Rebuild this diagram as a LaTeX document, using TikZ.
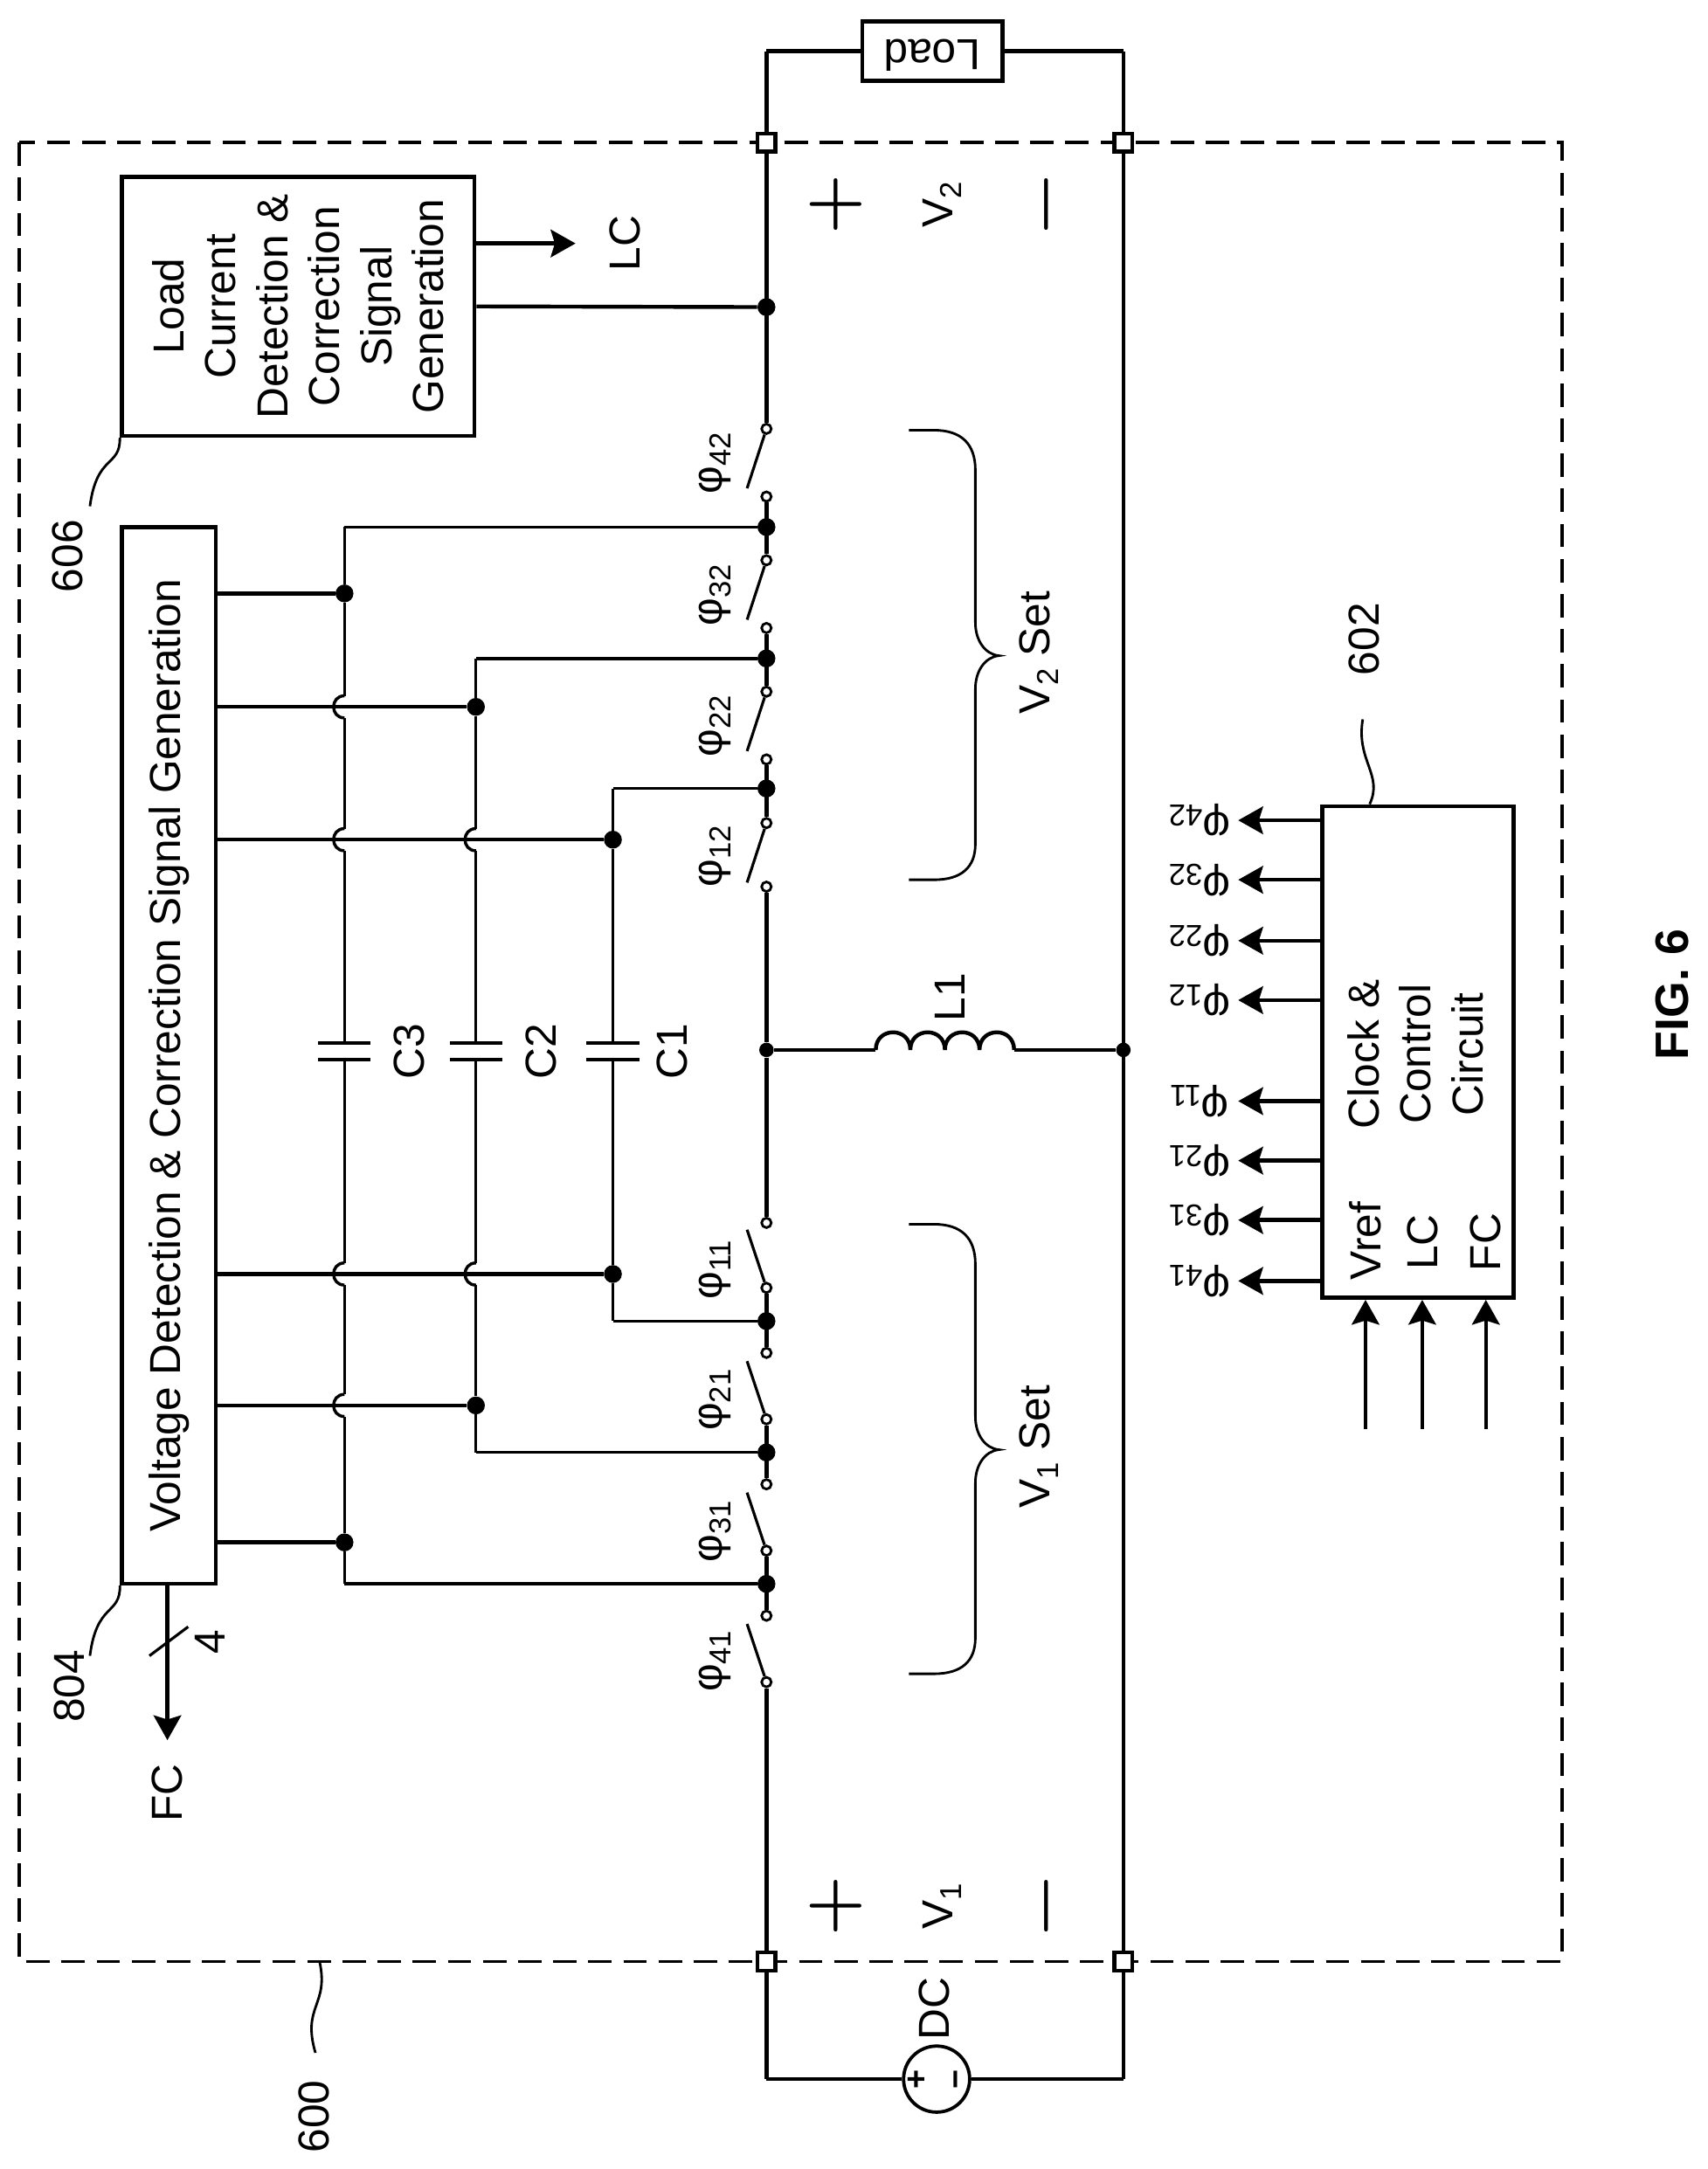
\documentclass[tikz,border=0pt]{standalone}
\usepackage{fontspec}
\setmainfont{Liberation Sans}
\newfontfamily\signfont{Latin Modern Roman}
\usetikzlibrary{arrows.meta}
\newcommand{\lowsub}[1]{\raisebox{-6pt}{\fontsize{22}{22}\selectfont #1}}
\newcommand{\phisw}[1]{{\fontsize{31}{31}\selectfont φ}\lowsub{#1}}
\tikzset{
  x=1.0045pt,y=-1.0045pt,
  every node/.style={font=\fontsize{31.5}{37.8}\selectfont,inner sep=0pt},
  wire/.style={line width=2.8pt},
  thinwire/.style={line width=2.2pt},
  leader/.style={line width=1.8pt},
  sig/.style={line width=2.8pt,-{Stealth[length=18pt,width=20pt,inset=3pt]}},
  vtext/.style={rotate=90,align=center},
  flip/.style={rotate=180},
  sign/.style={rotate=90,font=\signfont\bfseries\fontsize{50}{50}\selectfont},
  block/.style={draw,line width=2.9pt,fill=white},
  dot/.style={circle,fill=black,minimum size=13pt},
  smalldot/.style={circle,fill=black,minimum size=10.5pt},
  contact/.style={circle,draw,line width=1.8pt,fill=white,minimum size=7pt},
  port/.style={rectangle,draw,line width=2.8pt,fill=white,minimum size=13pt},
  plate/.style={line width=3pt}
}
\begin{document}
\begin{tikzpicture}
\useasboundingbox (0,0) rectangle (1234.4,1568);
\draw[line width=2.2pt,dash pattern=on 17pt off 8.5pt] (14,103) rectangle (1129,1418);
\node[port] (p_tl) at (554,103) {};
\node[port] (p_tr) at (812,103) {};
\node[port] (p_bl) at (554,1418) {};
\node[port] (p_br) at (812,1418) {};
\node[block,minimum height=43pt,minimum width=102pt] (load) at (674,37) {};
\node[flip] (load_t) at (674,40) {Load};
\coordinate (load_a) at (554,37);
\coordinate (load_b) at (812,37);
\path[wire] (p_tl) edge (load_a)
            (load_a) edge (load.west)
            (load.east) edge (load_b)
            (load_b) edge (p_tr);
\node[circle,draw,line width=2.4pt,minimum size=48pt] (dc) at (677,1503) {};
\node[vtext] (dc_t) at (675,1452) {DC};
\node[rotate=90,font=\fontsize{24}{24}\selectfont\bfseries] (dc_p) at (663,1503) {+};
\node[rotate=90,font=\fontsize{24}{24}\selectfont\bfseries] (dc_m) at (694,1503) {−};
\coordinate (dc_a) at (554,1503);
\coordinate (dc_b) at (812,1503);
\path[wire] (p_bl) edge (dc_a)
            (dc_a) edge (dc.west)
            (dc.east) edge (dc_b)
            (dc_b) edge (p_br);
\path[wire] (p_tr) edge (p_br);
\node[smalldot] (n_low) at (812,759) {};
\node[smalldot] (n_mid) at (554,759) {};
\foreach \k/\ya/\yb/\yl in {42/310/359/335,32/405/454/430,22/500/549/525,12/595/641/619}
{
  \node[contact] (c_\k_a) at (554,\ya) {};
  \node[contact] (c_\k_b) at (554,\yb) {};
  \coordinate (bl_\k) at (540,\ya+43);
  \path[line width=2pt] (c_\k_a) edge (bl_\k);
  \node[vtext] (ph_\k) at (517,\yl) {\phisw{\k}};
}
\foreach \k/\ya/\yb/\yl in {11/884/931/918,21/978/1026/1012,31/1073/1121/1107,41/1168/1216/1201}
{
  \node[contact] (c_\k_a) at (554,\ya) {};
  \node[contact] (c_\k_b) at (554,\yb) {};
  \coordinate (bl_\k) at (540,\yb-42);
  \path[line width=2pt] (c_\k_b) edge (bl_\k);
  \node[vtext] (ph_\k) at (517,\yl) {\phisw{\k}};
}
\node[dot] (j_lc) at (554,222) {};
\node[dot] (j_32) at (554,381) {};
\node[dot] (j_22) at (554,476) {};
\node[dot] (j_12) at (554,570) {};
\node[dot] (j_11) at (554,955) {};
\node[dot] (j_21) at (554,1050) {};
\node[dot] (j_31) at (554,1145) {};
\path[wire] (p_tl) edge (c_42_a)
            (c_42_b) edge (c_32_a)
            (c_32_b) edge (c_22_a)
            (c_22_b) edge (c_12_a)
            (c_12_b) edge (n_mid)
            (n_mid) edge (c_11_a)
            (c_11_b) edge (c_21_a)
            (c_21_b) edge (c_31_a)
            (c_31_b) edge (c_41_a)
            (c_41_b) edge (p_bl);
\node[block,vtext,minimum width=188pt,minimum height=256pt] (lc_box) at (215.5,221.5)
  {Load\\Current\\Detection \&\\Correction\\Signal\\Generation};
\coordinate (lc_o) at (343,176);
\coordinate (lc_e) at (416,176);
\node[vtext] (lc_t) at (452,176) {LC};
\path[sig] (lc_o) edge (lc_e);
\path[wire] (lc_box.south) edge (j_lc);
\node[block,vtext,minimum width=767pt,minimum height=68pt] (vd_box) at (122,763)
  {Voltage Detection \& Correction Signal Generation};
\node[dot] (t_3a) at (249,429) {};
\node[dot] (t_3b) at (249,1115) {};
\node[dot] (t_2a) at (344,511) {};
\node[dot] (t_2b) at (344,1016) {};
\node[dot] (t_1a) at (443,607) {};
\node[dot] (t_1b) at (443,921) {};
\foreach \n/\x/\y in {h_3a/249/511,h_3b/249/607,h_3c/249/921,h_3d/249/1016,h_2a/344/607,h_2b/344/921}
{
  \coordinate (\n_u) at (\x,\y-8);
  \coordinate (\n_d) at (\x,\y+8);
  \draw[thinwire] (\n_u) .. controls +(-10.5,0) and +(-10.5,0) .. (\n_d);
}
\foreach \n/\x in {3/249,2/344,1/443}
{
  \coordinate (cap_\n_u) at (\x,754);
  \coordinate (cap_\n_d) at (\x,766);
  \draw[plate] (\x-19,754) -- (\x+19,754) (\x-19,766) -- (\x+19,766);
}
\coordinate (k_3a) at (249,381);
\coordinate (k_3b) at (249,1145);
\coordinate (k_2a) at (344,476);
\coordinate (k_2b) at (344,1050);
\coordinate (k_1a) at (443,570);
\coordinate (k_1b) at (443,955);
\path[thinwire] (j_32) edge (k_3a)
                (k_3a) edge (t_3a)
                (t_3a) edge (h_3a_u)
                (h_3a_d) edge (h_3b_u)
                (h_3b_d) edge (cap_3_u)
                (cap_3_d) edge (h_3c_u)
                (h_3c_d) edge (h_3d_u)
                (h_3d_d) edge (t_3b)
                (t_3b) edge (k_3b)
                (k_3b) edge (j_31)
                (j_22) edge (k_2a)
                (k_2a) edge (t_2a)
                (t_2a) edge (h_2a_u)
                (h_2a_d) edge (cap_2_u)
                (cap_2_d) edge (h_2b_u)
                (h_2b_d) edge (t_2b)
                (t_2b) edge (k_2b)
                (k_2b) edge (j_21)
                (j_12) edge (k_1a)
                (k_1a) edge (t_1a)
                (t_1a) edge (cap_1_u)
                (cap_1_d) edge (t_1b)
                (t_1b) edge (k_1b)
                (k_1b) edge (j_11);
\path[wire] (vd_box.south |- t_3a) edge (t_3a)
            (vd_box.south |- t_2a) edge (t_2a)
            (vd_box.south |- t_1a) edge (t_1a)
            (vd_box.south |- t_1b) edge (t_1b)
            (vd_box.south |- t_2b) edge (t_2b)
            (vd_box.south |- t_3b) edge (t_3b);
\node[vtext] (c3_t) at (296,760) {C3};
\node[vtext] (c2_t) at (391,760) {C2};
\node[vtext] (c1_t) at (486,760) {C1};
\coordinate (coil_a) at (633,759);
\coordinate (coil_b) at (733,759);
\draw[wire] (coil_a) .. controls +(0,-17) and +(0,-17) .. ++(25,0)
                     .. controls +(0,-17) and +(0,-17) .. ++(25,0)
                     .. controls +(0,-17) and +(0,-17) .. ++(25,0)
                     .. controls +(0,-17) and +(0,-17) .. (coil_b);
\path[wire] (n_mid) edge (coil_a)
            (coil_b) edge (n_low);
\node[vtext] (l1_t) at (687,721) {L1};
\coordinate (fc_o) at (121,1145);
\coordinate (fc_e) at (121,1258);
\path[sig] (fc_o) edge (fc_e);
\coordinate (sl_a) at (108,1197);
\coordinate (sl_b) at (136,1176);
\path[line width=2pt] (sl_a) edge (sl_b);
\node[vtext] (bus_w) at (152,1187) {4};
\node[vtext] (fc_t) at (121,1296) {FC};
\node[vtext] (r_606) at (49,402) {606};
\draw[leader] (lc_box.north west) .. controls (87,338) and (70,328) .. (65,366);
\node[vtext] (r_804) at (50,1219) {804};
\draw[leader] (vd_box.north west) .. controls (87,1168) and (70,1158) .. (65,1197);
\coordinate (f_600) at (231,1418);
\node[vtext] (r_600) at (227,1530) {600};
\draw[leader] (f_600) .. controls (238,1450) and (218,1450) .. (228,1484);
\coordinate (br_2) at (657,311);
\draw[leader] (br_2) -- (675,311) .. controls (695,311) and (705,321) .. (705,340) -- (705,450)
  .. controls (705,463) and (712,473) .. (722,474) .. controls (712,475) and (705,485) .. (705,498)
  -- (705,610) .. controls (705,627) and (695,636) .. (675,636) -- (657,636);
\node[vtext] (v2_set) at (751,472) {V\lowsub{2} Set};
\coordinate (br_1) at (657,885);
\draw[leader] (br_1) -- (675,885) .. controls (695,885) and (705,895) .. (705,914) -- (705,1024)
  .. controls (705,1037) and (712,1047) .. (722,1048) .. controls (712,1049) and (705,1059) .. (705,1072)
  -- (705,1184) .. controls (705,1201) and (695,1210) .. (675,1210) -- (657,1210);
\node[vtext] (v1_set) at (751,1046) {V\lowsub{1} Set};
\foreach \n/\y/\s in {2/148/2,1/1378/1}
{
  \node[sign] (plus_\n) at (604,\y) {+};
  \node[vtext] (v_\n) at (681,\y) {V\lowsub{\s}};
  \node[sign] (minus_\n) at (762,\y) {−};
}
\node[block,minimum width=139pt,minimum height=357pt] (clk_box) at (1025,760.5) {};
\node[vtext] (clk_t) at (1023,762) {Clock \&\\Control\\Circuit};
\node[vtext] (in_v) at (987,897) {Vref};
\node[vtext] (in_l) at (1028,898) {LC};
\node[vtext] (in_f) at (1074,898) {FC};
\foreach \n/\x in {v/987,l/1028,f/1074}
{
  \coordinate (src_\n) at (\x,1033);
  \path[sig] (src_\n) edge (src_\n |- clk_box.south);
}
\foreach \k/\y in {42/593,32/636,22/680,12/723,11/796,21/839,31/882,41/926}
{
  \coordinate (tip_\k) at (895,\y);
  \path[sig] (clk_box.west |- tip_\k) edge (tip_\k);
  \node[flip] (o_\k) at (867,\y) {\phisw{\k}};
}
\node[vtext] (r_602) at (986,462) {602};
\draw[leader] (clk_box.north -| 990,583) .. controls (1000,560) and (980,550) .. (985,520);
\node[vtext,font=\fontsize{34}{34}\selectfont\bfseries] (fig) at (1209,719) {FIG. 6};
\end{tikzpicture}
\end{document}
